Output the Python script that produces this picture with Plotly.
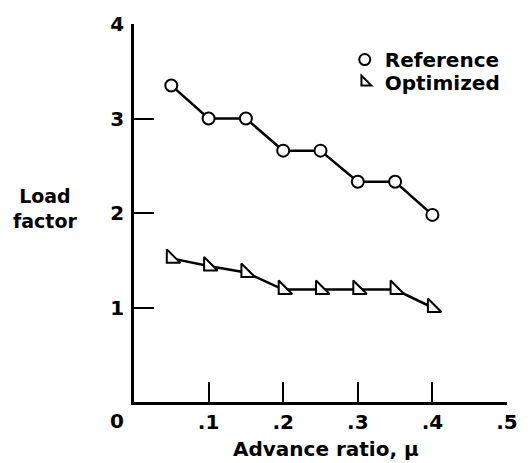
import plotly.graph_objects as go

mu = [0.05, 0.1, 0.15, 0.2, 0.25, 0.3, 0.35, 0.4]
reference = [3.35, 3.0, 3.0, 2.66, 2.66, 2.33, 2.33, 1.98]
optimized = [1.52, 1.44, 1.37, 1.19, 1.19, 1.19, 1.19, 1.0]
x_ticks = [0.1, 0.2, 0.3, 0.4, 0.5]
x_labels = [".1", ".2", ".3", ".4", ".5"]
y_ticks = [1, 2, 3, 4]

FONT = "DejaVu Sans"
F = dict(family=FONT, size=20, color="black", weight="bold")

fig = go.Figure()
fig.add_trace(go.Scatter(
    x=mu, y=reference, mode="lines+markers", name="Reference", showlegend=False,
    line=dict(color="black", width=2.5),
    marker=dict(symbol="circle", size=12, color="white", line=dict(color="black", width=2)),
))
fig.add_trace(go.Scatter(
    x=mu, y=optimized, mode="lines+markers", name="Optimized", showlegend=False,
    line=dict(color="black", width=2.5),
    marker=dict(symbol="triangle-sw", size=15, color="white", line=dict(color="black", width=2)),
))
# legend entries (markers only)
fig.add_trace(go.Scatter(
    x=[None], y=[None], mode="markers", name="Reference", legend="legend",
    marker=dict(symbol="circle", size=11, color="white", line=dict(color="black", width=2)),
))
fig.add_trace(go.Scatter(
    x=[None], y=[None], mode="markers", name="Optimized", legend="legend2",
    marker=dict(symbol="triangle-sw", size=11, color="white", line=dict(color="black", width=2)),
))

LEG = dict(xanchor="left", yanchor="middle", bgcolor="rgba(0,0,0,0)",
           itemwidth=30, font=F, tracegroupgap=0)

fig.update_layout(
    width=530, height=463,
    margin=dict(l=134, r=12, t=19, b=61),
    paper_bgcolor="white", plot_bgcolor="white",
    font=F,
    showlegend=True,
    legend=dict(x=0.565, y=0.906, **LEG),
    legend2=dict(x=0.565, y=0.846, **LEG),
    xaxis=dict(range=[0, 0.5], tickvals=x_ticks, ticktext=x_labels,
               showgrid=False, zeroline=False, showline=True, linecolor="black", linewidth=2.5,
               ticks="inside", ticklen=20, tickwidth=2, tickcolor="black",
               tickfont=F),
    yaxis=dict(range=[0, 4], tickvals=y_ticks,
               showgrid=False, zeroline=False, showline=True, linecolor="black", linewidth=2.5,
               ticks="inside", ticklen=20, tickwidth=2, tickcolor="black",
               tickfont=F, ticklabelstandoff=3),
    annotations=[
        dict(text="0", xref="paper", yref="paper", x=-0.045, y=-0.05,
             xanchor="center", yanchor="middle", showarrow=False, font=F),
        dict(text="Advance ratio, μ", xref="paper", yref="paper", x=0.515, y=-0.125,
             xanchor="center", yanchor="middle", showarrow=False, font=F),
        dict(text="Load<br>factor", xref="paper", yref="paper", x=-0.238, y=0.512,
             xanchor="center", yanchor="middle", showarrow=False,
             font=dict(family=FONT, size=19, color="black", weight="bold")),
    ],
)

fig.write_html("out.html")
